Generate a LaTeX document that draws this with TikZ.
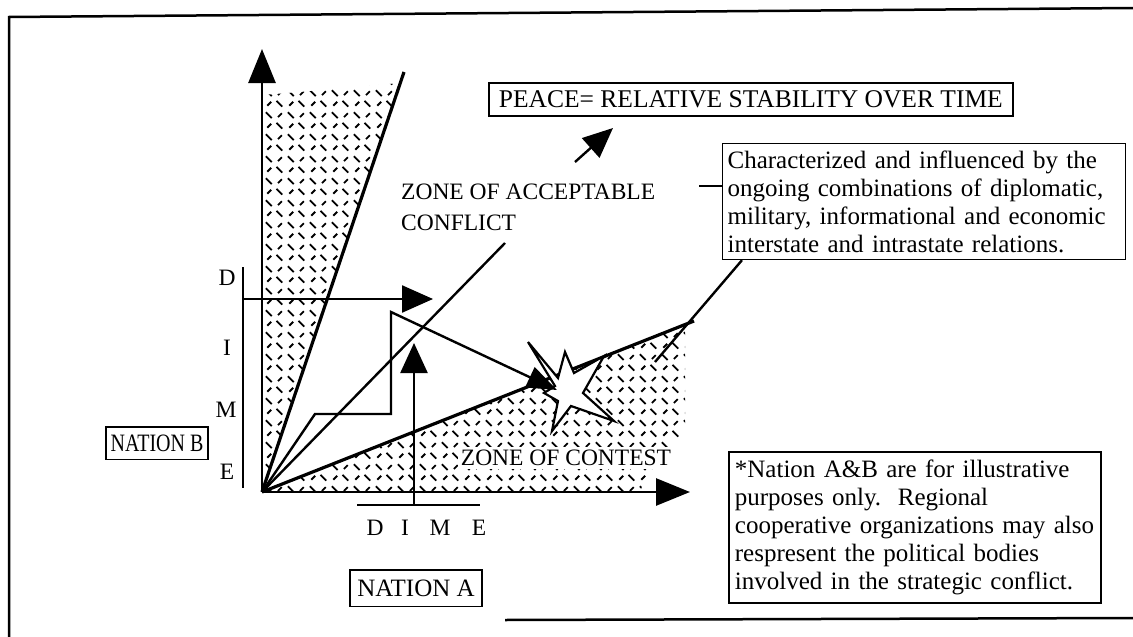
\documentclass[tikz,border=0pt]{standalone}
\usepackage{fontspec}
\setmainfont{Liberation Serif}
\usetikzlibrary{arrows.meta,patterns}
\pgfdeclarepatternformonly{dashx}{\pgfpointorigin}{\pgfqpoint{22pt}{22pt}}{\pgfqpoint{22pt}{22pt}}{%
  \pgfsetlinewidth{1.9pt}%
  \pgfpathmoveto{\pgfqpoint{3.5pt}{3.5pt}}\pgfpathlineto{\pgfqpoint{7.5pt}{7.5pt}}%
  \pgfpathmoveto{\pgfqpoint{13pt}{8.5pt}}\pgfpathlineto{\pgfqpoint{19pt}{2.5pt}}%
  \pgfpathmoveto{\pgfqpoint{2pt}{19.5pt}}\pgfpathlineto{\pgfqpoint{8pt}{13.5pt}}%
  \pgfpathmoveto{\pgfqpoint{14.5pt}{14.5pt}}\pgfpathlineto{\pgfqpoint{18.5pt}{18.5pt}}%
  \pgfusepath{stroke}}
\newcommand\fz{\fontsize{25}{28}\selectfont}
\newcommand\fzc{\fontsize{23.5}{29}\selectfont}
\newcommand\fzp{\fontsize{25.5}{28}\selectfont}
\begin{document}
\begin{tikzpicture}[x=1pt,y=-1pt,
  txt/.style={font=\fz, inner sep=0pt},
  captxt/.style={font=\fzc, inner sep=0pt},
  box/.style={draw, line width=1.8pt, font=\fz, inner xsep=7pt, inner ysep=8pt},
  ax/.style={line width=2.7pt, -{Triangle[length=34pt,width=27pt]}},
  ray/.style={line width=3.2pt},
  ln/.style={line width=2.4pt},
  bigtip/.style={-{Triangle[length=30pt,width=26pt]}},
  hatch/.style={pattern=dashx}]
\useasboundingbox (0,0) rectangle (1133,637);
% frame
\coordinate (F1) at (9,637); \coordinate (F2) at (9,17); \coordinate (F3) at (1133,8);
\coordinate (B1) at (505,620); \coordinate (B2) at (1133,618);
\draw[line width=2.5pt] (F1) -- (F2) -- (F3);
\draw[line width=2.5pt] (B1) -- (B2);
% key points
\coordinate (O) at (262,492);
\coordinate (Ytip) at (262,49);
\coordinate (Xtip) at (690,492);
\coordinate (S) at (404,72);
\coordinate (Sh) at (694,321);
\coordinate (A) at (505,243);
% hatched zones
\fill[hatch] (O) -- (262,95) -- (300,92) -- (400,83) -- cycle;
\fill[hatch] (O) -- (Sh) -- (685,325) -- (685,430) -- (645,478) -- (640,492) -- cycle;
% rays
\draw[ray] (O) -- (S);
\draw[ray] (O) -- (Sh);
\draw[ln] (O) -- (A);
% axes
\draw[ax] (O) -- (Ytip);
\draw[ax] (O) -- (Xtip);
% left DIME scale (Nation B)
\coordinate (lb1) at (243,267); \coordinate (lb2) at (243,488);
\draw[ln] (lb1) -- (lb2);
\node[captxt] (lD) at (227,278) {D};
\node[captxt] (lI) at (227,348) {I};
\node[captxt] (lM) at (226,410) {M};
\node[captxt] (lE) at (227,472) {E};
\coordinate (hb0) at (243,299); \coordinate (hbtip) at (433,299);
\draw[ln,-{Triangle[length=31pt,width=27pt]}] (hb0) -- (hbtip);
% bottom DIME scale (Nation A)
\coordinate (bb1) at (357,505); \coordinate (bb2) at (480,505);
\draw[ln] (bb1) -- (bb2);
\node[captxt] (bD) at (375,528) {D};
\node[captxt] (bI) at (405,528) {I};
\node[captxt] (bM) at (440,528) {M};
\node[captxt] (bE) at (479,528) {E};
\coordinate (va0) at (414,505); \coordinate (vatip) at (414,343);
\draw[ln,-{Triangle[length=30pt,width=27pt]}] (va0) -- (vatip);
% star
\draw[line width=2.2pt, fill=white] (528,342) -- (558,378) -- (565,352) -- (574,373) -- (604,356)
  -- (583,393) -- (614,421) -- (571,406) -- (552,431) -- (558,401) -- (544,393) -- (555,386) -- cycle;
% staircase path to the star
\coordinate (st1) at (315,414); \coordinate (st2) at (391,414); \coordinate (st3) at (391,312);
\coordinate (sttip) at (557,390);
\draw[ln,-{Triangle[length=30pt,width=22pt]}] (O) -- (st1) -- (st2) -- (st3) -- (sttip);
% labels
\node[captxt, fill=white, inner sep=3pt] (zc) at (566,458) {ZONE OF CONTEST};
\node[captxt, anchor=west] (zac) at (401,192) {ZONE OF ACCEPTABLE};
\node[captxt, anchor=west] (zconf) at (401,223) {CONFLICT};
\node[box, font=\fzp, anchor=north west, inner xsep=10pt] (peace) at (488,82) {PEACE= RELATIVE STABILITY OVER TIME};
\coordinate (P1) at (575,162); \coordinate (P2) at (613,128);
\draw[ln,bigtip] (P1) -- (P2);
\node[box, anchor=north west, text width=393pt, align=left, inner xsep=5pt, inner ysep=7pt, line width=1.2pt] (char) at (722,143)
  {Characterized and influenced by the\\ongoing combinations of diplomatic,\\military, informational and economic\\interstate and intrastate relations.};
\coordinate (L1) at (699,186);
\draw[ln] (L1) -- (L1 -| char.west);
\coordinate (L2b) at (655,362);
\draw[ln] (char.south west) ++(20,0) coordinate (L2a) (L2a) -- (L2b);
\node[box, anchor=north west, text width=360pt, align=left, inner xsep=6pt, inner ysep=8pt] (note) at (728,451)
  {*Nation A\&B are for illustrative\\purposes only.\ \ Regional\\cooperative organizations may also\\respresent the political bodies\\involved in the strategic conflict.};
\node[box, inner ysep=10pt] (nA) at (416,588) {NATION A};
\node[box, inner xsep=5pt] (nB) at (157,443) {\scalebox{0.8}[1]{NATION B}};
\end{tikzpicture}
\end{document}
